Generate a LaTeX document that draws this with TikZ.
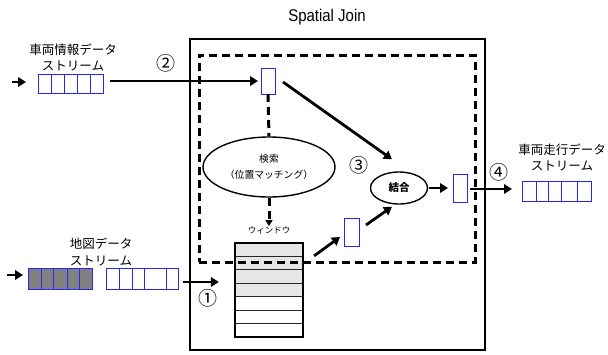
\documentclass[tikz,border=0pt]{standalone}
\usepackage{fontspec}
\setmainfont{Liberation Sans}
\newfontfamily\jp{Noto Sans CJK JP}
\usetikzlibrary{arrows.meta,shapes.geometric}
\definecolor{qblue}{HTML}{2828F0}
\definecolor{qgray}{HTML}{808080}
\definecolor{wgray}{HTML}{E6E6E6}
\begin{document}
\begin{tikzpicture}[x=1pt,y=-1pt,
  flow/.style={line width=2.8pt,-{Triangle[length=8pt,width=9.5pt]}},
  dashline/.style={line width=3pt,dash pattern=on 8pt off 5pt},
  queuebox/.style={draw=qblue,line width=1pt,inner sep=0pt,outer sep=0pt},
  tuple/.style={draw=qblue,line width=1pt,inner sep=0pt,outer sep=0pt,minimum width=14pt,minimum height=27pt},
  jlabel/.style={font=\jp\fontsize{12.5}{16}\selectfont,align=center,inner sep=0pt},
  numlabel/.style={font=\jp\fontsize{19}{20}\selectfont,inner sep=0pt},
  opnode/.style={draw,ellipse,line width=1.4pt,inner sep=0pt,align=center}]
\useasboundingbox (0,0) rectangle (608,354);

% title and operator frame
\node[font=\fontsize{17}{20}\selectfont,xscale=0.88,inner sep=0pt] (title) at (327,17) {Spatial Join};
\node[draw,line width=1.8pt,minimum width=295pt,minimum height=311pt,inner sep=0pt] (frame) at (337.5,194.5) {};

% vehicle information stream (input)
\node[jlabel] (lblA) at (73,57) {車両情報データ\\ストリーム};
\node[queuebox,minimum width=65pt,minimum height=19pt] (qa) at (70.5,83.5) {};
\foreach \cx in {51,64,77,90} \draw[qblue,line width=1pt] (\cx,74) -- (\cx,93);
\coordinate (inAs) at (12,82);
\coordinate (inAe) at (26,82);
\draw[flow] (inAs) -- (inAe);

% map data stream (input)
\node[jlabel,font=\jp\fontsize{12.5}{17}\selectfont] (lblB) at (101,251.5) {地図データ\\ストリーム};
\node[queuebox,fill=qgray,minimum width=64pt,minimum height=21pt] (qg) at (60,278.5) {};
\foreach \cx in {41,53,67,79} \draw[qblue,line width=1pt] (\cx,268) -- (\cx,289);
\node[queuebox,minimum width=72pt,minimum height=21pt] (qb) at (142,278.5) {};
\foreach \cx in {119,132,144,166} \draw[qblue,line width=1pt] (\cx,268) -- (\cx,289);
\coordinate (inBs) at (7,275);
\coordinate (inBe) at (23,275);
\draw[flow] (inBs) -- (inBe);

% vehicle travel stream (output)
\node[jlabel,font=\jp\fontsize{12.5}{15.5}\selectfont] (lblC) at (562,157.5) {車両走行データ\\ストリーム};
\node[queuebox,minimum width=69pt,minimum height=20pt] (qo) at (556.5,191) {};
\foreach \cx in {536,548,561,577} \draw[qblue,line width=1pt] (\cx,181) -- (\cx,201);

% tuples in flight
\node[tuple,minimum height=26pt] (r1) at (268,81) {};
\node[tuple,minimum width=15pt,minimum height=28pt] (r2) at (351.5,232) {};
\node[tuple,minimum height=28pt] (r3) at (460,188) {};

% search and merge operators
\node[opnode,minimum width=132pt,minimum height=60pt,font=\jp\fontsize{9.8}{16}\selectfont] (srch) at (269,167) {検索\\（位置マッチング）};
\node[opnode,minimum width=57pt,minimum height=32pt,font=\jp\bfseries\fontsize{10.5}{12}\selectfont] (mg) at (399,188) {結合};

% window buffer
\node[font=\jp\fontsize{8.5}{10}\selectfont,inner sep=0pt] (wlab) at (269,230) {ウィンドウ};
\fill[wgray] (235,243) rectangle (303,296.7);
\foreach \k in {1,...,6} \draw[line width=1.1pt,black!85] (235,243+\k*13.43) -- (303,243+\k*13.43);
\node[draw,line width=2.2pt,minimum width=68pt,minimum height=94pt,inner sep=0pt] (win) at (269,290) {};

% dashed operator region, drawn over the window
\node[dashline,draw,minimum width=276pt,minimum height=207pt,inner sep=0pt] (inner) at (337,158.5) {};

% labels
\node[numlabel] (n1) at (208,298) {①};
\node[numlabel] (n2) at (166,63) {②};
\node[numlabel] (n3) at (359,165) {③};
\node[numlabel] (n4) at (499,172) {④};

% connectors
\draw[flow,shorten <=7pt,shorten >=3pt] (qa.east |- r1.west) -- (r1.west);
\draw[dashline] (r1.south) -- (srch.north);
\draw[dashline,-{Triangle[length=6pt,width=7pt]}] (srch.south) -- (wlab.north);
\draw[flow] ([shift={(8,1)}]r1.east) -- ([shift={(-7,-12)}]mg.north);
\draw[flow,shorten <=5pt,shorten >=15pt] ([yshift=-3.5pt]qb.east) -- ([yshift=-3.5pt]qb.east -| win.west);
\draw[flow] ([shift={(10,14)}]win.north east) -- ([shift={(-4,5)}]r2.west);
\draw[flow] ([shift={(7,7)}]r2.north east) -- ([shift={(-7,2)}]mg.south);
\draw[flow,shorten <=1pt,shorten >=5pt] (mg.east) -- (r3.west);
\draw[flow,shorten <=3pt,shorten >=10pt] ([yshift=-1pt]r3.east) -- ([yshift=-1pt]r3.east -| qo.west);
\end{tikzpicture}
\end{document}
